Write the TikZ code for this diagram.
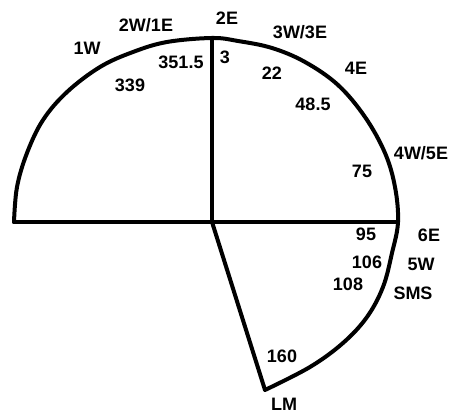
\documentclass[tikz,border=0pt]{standalone}
\usepackage{fontspec}
\setmainfont{Liberation Sans}
\begin{document}
\begin{tikzpicture}[x=1pt,y=1pt,
  outline/.style={line width=4pt,line join=round,line cap=round},
  lbl/.style={inner sep=0pt,font=\fontsize{18}{18}\selectfont\bfseries}]
\useasboundingbox (0,0) rectangle (453,417);
\coordinate (C) at (212,195);
\coordinate (L) at (14,195);
\coordinate (R) at (398,195);
\coordinate (T) at (212,379);
\coordinate (LM) at (265,27);
% outline
\draw[outline] plot[smooth,tension=0.6] coordinates {(14,195) (17,230) (27,264) (43,297) (67,325) (100,350) (133,365) (167,375) (212,379) (238,376) (272,369) (305,355) (338,332) (365,300) (385,264) (395,230) (398,195) (392,164) (383,130) (367,100) (343,74) (310,50) (265,27)} -- (C);
\draw[outline] (L) -- (R);
\draw[outline] (C) -- (T);
% labels
\node[lbl] (n1w) at (87,369) {1W};
\node[lbl] (n2w1e) at (146,392) {2W/1E};
\node[lbl] (n3515) at (181,355) {351.5};
\node[lbl] (n339) at (130,332) {339};
\node[lbl] (n2e) at (227,399) {2E};
\node[lbl] (n3) at (225,360) {3};
\node[lbl] (n3w3e) at (300,385) {3W/3E};
\node[lbl] (n22) at (272,344) {22};
\node[lbl] (n4e) at (356,349) {4E};
\node[lbl] (n485) at (313,313) {48.5};
\node[lbl] (n75) at (362,246) {75};
\node[lbl] (n4w5e) at (421,264) {4W/5E};
\node[lbl] (n95) at (366,183) {95};
\node[lbl] (n6e) at (429,182) {6E};
\node[lbl] (n106) at (367,155) {106};
\node[lbl] (n5w) at (421,153) {5W};
\node[lbl] (n108) at (348,133) {108};
\node[lbl] (nsms) at (413,124) {SMS};
\node[lbl] (n160) at (282,61) {160};
\node[lbl] (nlm) at (284,13) {LM};
\end{tikzpicture}
\end{document}
